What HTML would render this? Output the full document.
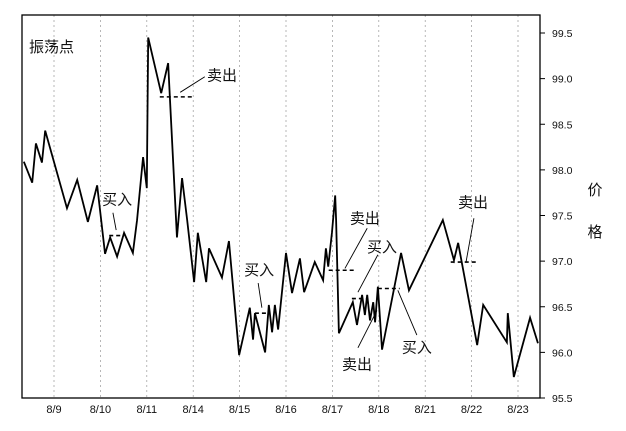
<!DOCTYPE html>
<html><head><meta charset="utf-8"><style>
body{margin:0;background:#fff;}
svg text{font-family:"Liberation Sans","Noto Sans CJK SC",sans-serif;}
</style></head><body>
<svg id="chart" width="626" height="426" xmlns="http://www.w3.org/2000/svg"></svg>
<script>
const categories=["8/9","8/10","8/11","8/14","8/15","8/16","8/17","8/18","8/21","8/22","8/23"];
const yTicks=[95.5,96.0,96.5,97.0,97.5,98.0,98.5,99.0,99.5];
const seriesDay=[0.35,0.53,0.61,0.74,0.81,1.28,1.50,1.73,1.93,2.01,2.10,2.21,2.36,2.51,2.70,2.79,2.92,3.00,3.03,3.31,3.46,3.65,3.76,3.87,4.02,4.10,4.28,4.34,4.62,4.77,4.99,5.22,5.29,5.33,5.55,5.63,5.70,5.76,5.83,6.00,6.13,6.30,6.39,6.62,6.80,6.86,6.91,6.99,7.06,7.08,7.14,7.44,7.53,7.64,7.70,7.75,7.81,7.88,7.92,7.98,8.07,8.48,8.65,9.38,9.62,9.71,10.12,10.25,10.76,10.78,10.91,11.26,11.43];
const seriesPrice=[98.09,97.86,98.29,98.08,98.43,97.58,97.89,97.43,97.83,97.48,97.08,97.26,97.05,97.31,97.09,97.45,98.14,97.80,99.45,98.84,99.17,97.26,97.91,97.45,96.77,97.31,96.77,97.14,96.82,97.22,95.97,96.49,96.14,96.43,96.00,96.52,96.22,96.52,96.25,97.09,96.65,97.03,96.66,96.99,96.79,97.14,96.94,97.31,97.72,97.45,96.21,96.55,96.30,96.63,96.41,96.63,96.35,96.55,96.33,96.72,96.03,97.09,96.68,97.45,97.01,97.20,96.08,96.52,96.11,96.43,95.73,96.38,96.10];
const levelStart=[3.28,2.19,5.33,6.92,7.42,7.98,9.55];
const levelEnd=[3.97,2.47,5.61,7.52,7.75,8.45,10.15];
const levelPrice=[98.80,97.28,96.43,96.90,96.59,96.70,96.99];
const labelText=["卖出","买入","买入","卖出","买入","买入","卖出","卖出"];
const labelDay=[4.62,2.36,5.42,7.70,8.07,8.82,10.03,7.53];
const labelPrice=[98.98,97.62,96.85,97.41,97.10,96.0,97.59,95.81];
const ptrFromDay=[4.25,2.27,5.40,7.75,7.98,8.82,10.05,7.55];
const ptrFromPrice=[99.02,97.53,96.76,97.36,97.07,96.19,97.47,96.05];
const ptrToDay=[3.72,2.34,5.48,7.27,7.55,8.41,9.88,7.96];
const ptrToPrice=[98.85,97.34,96.49,96.92,96.66,96.68,96.99,96.46];

const X0=22,X1=540,Y0=15,Y1=398;
const xs=d=>54+(d-1)*46.4;
const ys=v=>33+(99.5-v)*91.25;
const svg=document.getElementById('chart');
const NS='http://www.w3.org/2000/svg';
function mk(tag,attrs,parent){const e=document.createElementNS(NS,tag);for(const k in attrs)e.setAttribute(k,attrs[k]);(parent||svg).appendChild(e);return e;}

categories.forEach((c,i)=>{
  const x=xs(i+1);
  const g=mk('line',{x1:x,x2:x,y1:Y0,y2:Y1,stroke:'#999','stroke-width':0.7,'stroke-dasharray':'2,3'});
  
  
  const t=mk('text',{x:x,y:413,'font-size':11,'text-anchor':'middle',fill:'#111'});
  t.textContent=c;
  
  
});
const frame=mk('rect',{x:X0,y:Y0,width:X1-X0,height:Y1-Y0,fill:'none',stroke:'#000','stroke-width':1.3});


yTicks.forEach(v=>{
  const y=ys(v);
  const tk=mk('line',{x1:X1,x2:X1+5,y1:y,y2:y,stroke:'#000','stroke-width':1});
  
  
  const t=mk('text',{x:X1+12,y:y+4,'font-size':10.5,fill:'#111'});
  t.textContent=v.toFixed(1);
  
  
});
const line=mk('polyline',{points:seriesDay.map((d,i)=>xs(d)+','+ys(seriesPrice[i])).join(' '),fill:'none',stroke:'#000','stroke-width':1.8,'stroke-linejoin':'miter'});


levelPrice.forEach((p,i)=>{
  const l=mk('line',{x1:xs(levelStart[i]),x2:xs(levelEnd[i]),y1:ys(p),y2:ys(p),stroke:'#000','stroke-width':1.6,'stroke-dasharray':'4,3'});
  
  
});
labelText.forEach((s,i)=>{
  const pl=mk('line',{x1:xs(ptrFromDay[i]),y1:ys(ptrFromPrice[i]),x2:xs(ptrToDay[i]),y2:ys(ptrToPrice[i]),stroke:'#000','stroke-width':0.9});
  
  
  const t=mk('text',{x:xs(labelDay[i]),y:ys(labelPrice[i]),'font-size':15,fill:'#111','text-anchor':'middle'});
  t.textContent=s;
  
  
});
const title=mk('text',{x:29,y:52,'font-size':15,fill:'#111'});
title.textContent='振荡点';


['价','格'].forEach((c,i)=>{
  const t=mk('text',{x:595,y:195+i*42,'font-size':15,fill:'#111','text-anchor':'middle'});
  t.textContent=c;
  
  
});
</script>
</body></html>
